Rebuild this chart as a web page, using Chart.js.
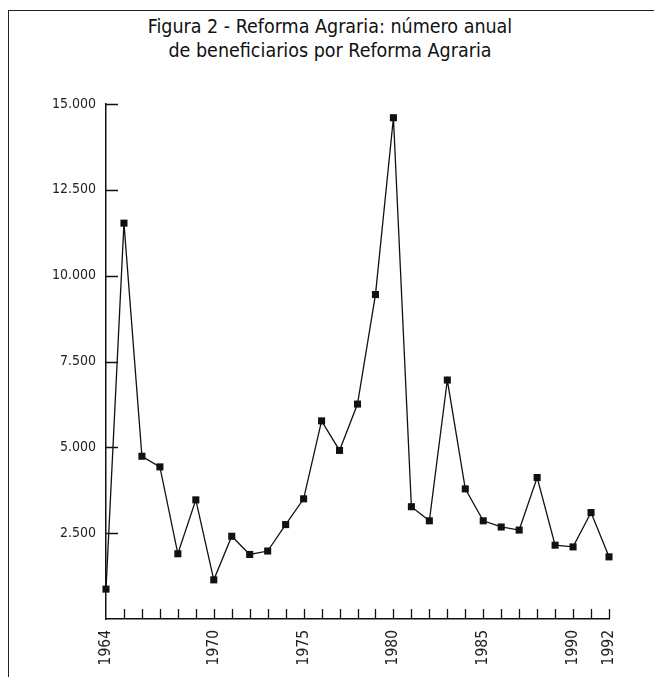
<!DOCTYPE html>
<html>
<head>
<meta charset="utf-8">
<script src="https://cdn.jsdelivr.net/npm/chart.js@4"></script>
<style>
  html, body { margin: 0; padding: 0; background: #fff; }
  #wrap { position: relative; width: 654px; height: 677px; }
  #frame { position: absolute; left: 8px; top: 10px; width: 660px; height: 680px;
           border-top: 1.5px solid #222; border-left: 1.5px solid #222; }
  #title { position: absolute; left: 0; top: 15px; width: 660px; text-align: center;
           font-family: 'Liberation Sans Narrow', 'DejaVu Sans Condensed', 'Liberation Sans', sans-serif;
           font-size: 19.5px; line-height: 24px; color: #111; }
  canvas { position: absolute; left: 0; top: 0; }
</style>
</head>
<body>
<div id="wrap">
  <div id="frame"></div>
  <div id="title">Figura 2 - Reforma Agraria: número anual<br>de beneficiarios por Reforma Agraria</div>
  <canvas id="chart" width="654" height="677"></canvas>
</div>
<script>
let years = [1964, 1965, 1966, 1967, 1968, 1969, 1970, 1971, 1972, 1973, 1974, 1975, 1976, 1977, 1978,
             1979, 1980, 1981, 1982, 1983, 1984, 1985, 1986, 1987, 1988, 1989, 1990, 1991, 1992];
let beneficiarios = [870, 11530, 4740, 4430, 1900, 3470, 1140, 2410, 1880, 1980, 2750, 3500, 5770, 4910, 6260,
                     9450, 14600, 3270, 2860, 6960, 3790, 2860, 2680, 2590, 4120, 2150, 2100, 3100, 1810];
let labeledYears = [1964, 1970, 1975, 1980, 1985, 1990, 1992];
let yTicks = [2500, 5000, 7500, 10000, 12500, 15000];

const fontFam = "'Liberation Sans Narrow', 'DejaVu Sans Condensed', 'Liberation Sans', sans-serif";

function fmt(v){
  return String(v).replace(/\B(?=(\d{3})+(?!\d))/g, '.');
}

// ticks drawn inward, as in the original figure
const innerTicks = {
  id: 'innerTicks',
  afterDatasetsDraw(chart){
    const ctx = chart.ctx;
    const x = chart.scales.x, y = chart.scales.y;
    ctx.save();
    ctx.strokeStyle = '#111';
    ctx.lineWidth = 1.3;
    ctx.beginPath();
    years.forEach(yr => {
      if (yr === years[0]) return;
      const px = Math.round(x.getPixelForValue(yr)) + 0.5;
      ctx.moveTo(px, y.bottom);
      ctx.lineTo(px, y.bottom - 10);
    });
    yTicks.forEach(v => {
      const py = Math.round(y.getPixelForValue(v)) + 0.5;
      ctx.moveTo(x.left, py);
      ctx.lineTo(x.left + 12, py);
    });
    ctx.stroke();
    ctx.restore();
  }
};

const ctx = document.getElementById('chart').getContext('2d');
const chart = new Chart(ctx, {
  type: 'line',
  data: {
    datasets: [{
      label: 'Beneficiarios',
      data: years.map((yr, i) => ({x: yr, y: beneficiarios[i]})),
      borderColor: '#111',
      borderWidth: 1.3,
      backgroundColor: '#111',
      pointStyle: 'rect',
      pointRadius: 5,
      pointBorderWidth: 0,
      tension: 0,
      clip: false
    }]
  },
  options: {
    responsive: false,
    animation: false,
    devicePixelRatio: 1,
    layout: { padding: { left: 0, right: 45, top: 104, bottom: 0 } },
    plugins: {
      legend: { display: false },
      tooltip: { enabled: false },
      title: { display: false }
    },
    scales: {
      x: {
        type: 'linear',
        min: 1964,
        max: 1992,
        grid: { display: false },
        border: { display: true, color: '#111', width: 1.5 },
        afterBuildTicks: (scale) => { scale.ticks = years.map(v => ({value: v})); },
        afterFit: (scale) => { scale.height = 58; },
        ticks: {
          autoSkip: false,
          minRotation: 90,
          maxRotation: 90,
          padding: 3,
          color: '#222',
          font: { family: fontFam, size: 15.5 },
          callback: (v) => labeledYears.includes(v) ? String(v) : ''
        }
      },
      y: {
        min: 0,
        max: 15000,
        grid: { display: false },
        border: { display: true, color: '#111', width: 1.5 },
        afterBuildTicks: (scale) => { scale.ticks = yTicks.map(v => ({value: v})); },
        afterFit: (scale) => { scale.width = 106; },
        ticks: {
          padding: 2,
          color: '#222',
          font: { family: fontFam, size: 14 },
          callback: (v) => fmt(v)
        }
      }
    }
  },
  plugins: [innerTicks]
});
</script>
</body>
</html>
